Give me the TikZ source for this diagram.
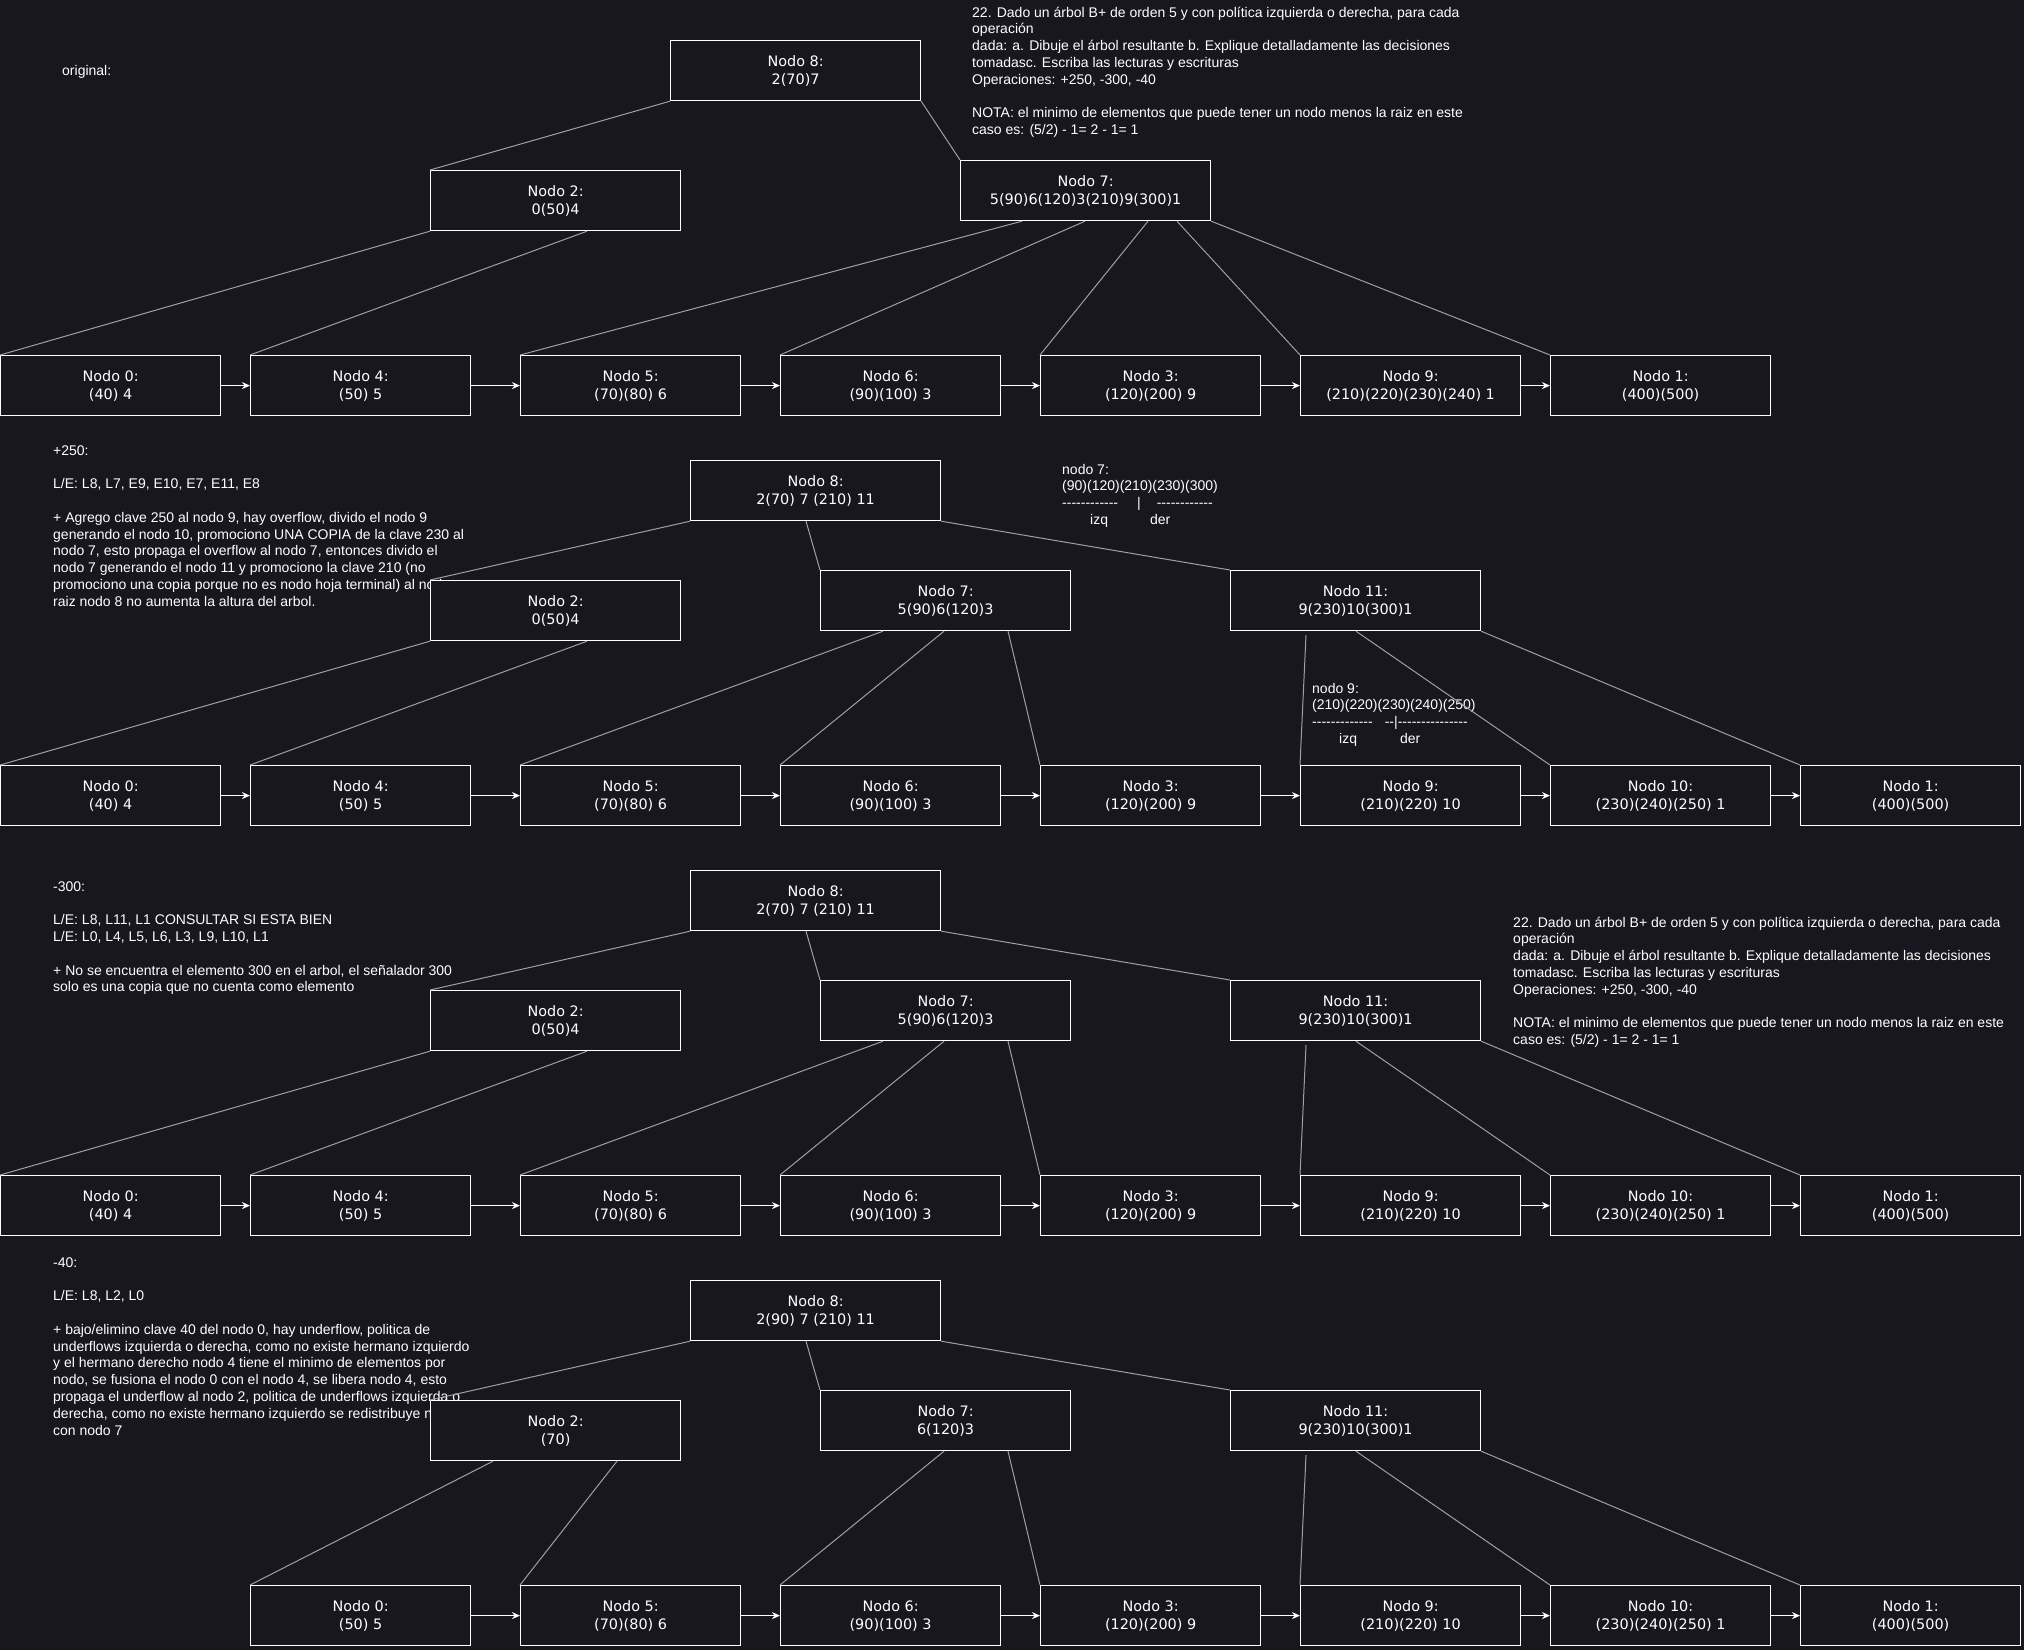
\documentclass[tikz,border=0pt]{standalone}
\usepackage{fontspec}
\newfontfamily\annotfont{Liberation Sans}
\newfontfamily\boxfont{DejaVu Sans}
\usetikzlibrary{arrows.meta}
\definecolor{bgc}{HTML}{18161F}
\definecolor{edgec}{HTML}{A0A0A0}

% a single hyphen that never joins its neighbours into a dash ligature
\newcommand\hh{-\kern0pt}
\newcount\hcnt
\newcommand\hhrun[1]{\hcnt=0 \loop\hh\advance\hcnt by 1 \ifnum\hcnt<#1 \repeat}

% a left-aligned block of text lines, 16.8pt apart; #3 is the centre of the first line
\newcommand\textblock[4]{%
  \foreach \ln [count=\k from 0] in {#4}{%
    \node[annot] (#1\k) at (#2, #3+5+16.8*\k) {\ln};
  }%
}

\tikzset{
  x=1pt, y=-1pt,
  inode/.style={draw=white, line width=1.2pt, fill=bgc, minimum width=250pt,
    minimum height=60pt, anchor=north west, inner sep=0pt, align=center,
    text=white, font=\boxfont\fontsize{14.4}{18}\selectfont},
  leaf/.style={inode, minimum width=220pt},
  edge/.style={draw=edgec, line width=1pt},
  link/.style={draw=white, line width=1.2pt, -{Stealth[length=8pt,width=7pt]}},
  annot/.style={text=white, inner sep=0pt, anchor=base west,
    font=\annotfont\fontsize{14}{17}\selectfont},
}

% tree after a split: Nodo 8 root, Nodo 7 and Nodo 11 as its right children
\newcommand\splitrow[2]{%
  \node[inode] (#1n8)  at (690, 460+#2) {Nodo 8:\\2(70) 7 (210) 11};
  \node[inode] (#1n2)  at (430, 580+#2) {Nodo 2:\\0(50)4};
  \node[inode] (#1n7)  at (820, 570+#2) {Nodo 7:\\5(90)6(120)3};
  \node[inode] (#1n11) at (1230, 570+#2) {Nodo 11:\\9(230)10(300)1};
  \node[leaf] (#1n0)  at (0, 765+#2)    {Nodo 0:\\(40) 4};
  \node[leaf] (#1n4)  at (250, 765+#2)  {Nodo 4:\\(50) 5};
  \node[leaf] (#1n5)  at (520, 765+#2)  {Nodo 5:\\(70)(80) 6};
  \node[leaf] (#1n6)  at (780, 765+#2)  {Nodo 6:\\(90)(100) 3};
  \node[leaf] (#1n3)  at (1040, 765+#2) {Nodo 3:\\(120)(200) 9};
  \node[leaf] (#1n9)  at (1300, 765+#2) {Nodo 9:\\(210)(220) 10};
  \node[leaf] (#1n10) at (1550, 765+#2) {Nodo 10:\\(230)(240)(250) 1};
  \node[leaf] (#1n1)  at (1800, 765+#2) {Nodo 1:\\(400)(500)};
  \draw[edge] (#1n8.south west) -- (#1n2.north west);
  \draw[edge] ([xshift=116pt]#1n8.south west) -- (#1n7.north west);
  \draw[edge] (#1n8.south east) -- (#1n11.north west);
  \draw[edge] (#1n2.south west) -- (#1n0.north west);
  \draw[edge] ([xshift=157pt]#1n2.south west) -- (#1n4.north west);
  \draw[edge] ([xshift=63pt]#1n7.south west) -- (#1n5.north west);
  \draw[edge] ([xshift=124pt]#1n7.south west) -- (#1n6.north west);
  \draw[edge] ([xshift=188pt]#1n7.south west) -- (#1n3.north west);
  \draw[edge] ([xshift=76pt,yshift=-4pt]#1n11.south west) -- (#1n9.north west);
  \draw[edge] ([xshift=126pt]#1n11.south west) -- (#1n10.north west);
  \draw[edge] (#1n11.south east) -- (#1n1.north west);
  \foreach \p/\q in {0/4,4/5,5/6,6/3,3/9,9/10,10/1}{\draw[link] (#1n\p.east) -- (#1n\q.west);}
}

\begin{document}
\begin{tikzpicture}
\fill[bgc] (0,0) rectangle (2024,1650);
\useasboundingbox (0,0) rectangle (2024,1650);

% ---------- notes ----------
\textblock{ta}{62}{70}{{original:}}
\textblock{tq}{972}{12}{{22. Dado un árbol B+ de orden 5 y con política izquierda o derecha, para cada},{operación},{dada: a. Dibuje el árbol resultante b. Explique detalladamente las decisiones},{tomadasc. Escriba las lecturas y escrituras},{Operaciones: +250, \hh300, \hh40},{},{NOTA: el minimo de elementos que puede tener un nodo menos la raiz en este},{caso es: (5/2) \hh\ 1= 2 \hh\ 1= 1}}

\textblock{tb}{53}{450}{{+250:},{},{L/E: L8, L7, E9, E10, E7, E11, E8},{},{+ Agrego clave 250 al nodo 9, hay overflow, divido el nodo 9},{generando el nodo 10, promociono UNA COPIA de la clave 230 al},{nodo 7, esto propaga el overflow al nodo 7, entonces divido el},{nodo 7 generando el nodo 11 y promociono la clave 210 (no},{promociono una copia porque no es nodo hoja terminal) al nodo},{raiz nodo 8 no aumenta la altura del arbol.}}
\textblock{tsa}{1062}{469}{{nodo 7:},{(90)(120)(210)(230)(300)},{\hhrun{12}\hspace{19pt}|\hspace{16pt}\hhrun{12}},{\hspace{28pt}izq\hspace{42pt}der}}
\textblock{tsb}{1312}{688}{{nodo 9:},{(210)(220)(230)(240)(250)},{\hhrun{13}\hspace{12pt}\hhrun{2}|\hhrun{15}},{\hspace{27pt}izq\hspace{43pt}der}}

\textblock{tc}{53}{886}{{\hh300:},{},{L/E: L8, L11, L1 CONSULTAR SI ESTA BIEN},{L/E: L0, L4, L5, L6, L3, L9, L10, L1},{},{+ No se encuentra el elemento 300 en el arbol, el señalador 300},{solo es una copia que no cuenta como elemento}}
\textblock{tr}{1513}{922}{{22. Dado un árbol B+ de orden 5 y con política izquierda o derecha, para cada},{operación},{dada: a. Dibuje el árbol resultante b. Explique detalladamente las decisiones},{tomadasc. Escriba las lecturas y escrituras},{Operaciones: +250, \hh300, \hh40},{},{NOTA: el minimo de elementos que puede tener un nodo menos la raiz en este},{caso es: (5/2) \hh\ 1= 2 \hh\ 1= 1}}

\textblock{td}{53}{1262}{{\hh40:},{},{L/E: L8, L2, L0},{},{+ bajo/elimino clave 40 del nodo 0, hay underflow, politica de},{underflows izquierda o derecha, como no existe hermano izquierdo},{y el hermano derecho nodo 4 tiene el minimo de elementos por},{nodo, se fusiona el nodo 0 con el nodo 4, se libera nodo 4, esto},{propaga el underflow al nodo 2, politica de underflows izquierda o},{derecha, como no existe hermano izquierdo se redistribuye nodo 2},{con nodo 7}}

% ---------- original tree ----------
\node[inode] (an8) at (670, 40)  {Nodo 8:\\2(70)7};
\node[inode] (an2) at (430, 170) {Nodo 2:\\0(50)4};
\node[inode] (an7) at (960, 160) {Nodo 7:\\5(90)6(120)3(210)9(300)1};
\node[leaf] (an0) at (0, 355)    {Nodo 0:\\(40) 4};
\node[leaf] (an4) at (250, 355)  {Nodo 4:\\(50) 5};
\node[leaf] (an5) at (520, 355)  {Nodo 5:\\(70)(80) 6};
\node[leaf] (an6) at (780, 355)  {Nodo 6:\\(90)(100) 3};
\node[leaf] (an3) at (1040, 355) {Nodo 3:\\(120)(200) 9};
\node[leaf] (an9) at (1300, 355) {Nodo 9:\\(210)(220)(230)(240) 1};
\node[leaf] (an1) at (1550, 355) {Nodo 1:\\(400)(500)};
\draw[edge] (an8.south west) -- (an2.north west);
\draw[edge] (an8.south east) -- (an7.north west);
\draw[edge] (an2.south west) -- (an0.north west);
\draw[edge] ([xshift=157pt]an2.south west) -- (an4.north west);
\draw[edge] ([xshift=62pt]an7.south west) -- (an5.north west);
\draw[edge] ([xshift=125pt]an7.south west) -- (an6.north west);
\draw[edge] ([xshift=188pt]an7.south west) -- (an3.north west);
\draw[edge] ([xshift=217pt]an7.south west) -- (an9.north west);
\draw[edge] (an7.south east) -- (an1.north west);
\foreach \p/\q in {0/4,4/5,5/6,6/3,3/9,9/1}{\draw[link] (an\p.east) -- (an\q.west);}

% ---------- after +250 and after -300 ----------
\splitrow{b}{0}
\splitrow{c}{410}

% ---------- after -40 ----------
\node[inode] (dn8)  at (690, 1280)  {Nodo 8:\\2(90) 7 (210) 11};
\node[inode] (dn2)  at (430, 1400)  {Nodo 2:\\(70)};
\node[inode] (dn7)  at (820, 1390)  {Nodo 7:\\6(120)3};
\node[inode] (dn11) at (1230, 1390) {Nodo 11:\\9(230)10(300)1};
\node[leaf] (dn0)  at (250, 1585)  {Nodo 0:\\(50) 5};
\node[leaf] (dn5)  at (520, 1585)  {Nodo 5:\\(70)(80) 6};
\node[leaf] (dn6)  at (780, 1585)  {Nodo 6:\\(90)(100) 3};
\node[leaf] (dn3)  at (1040, 1585) {Nodo 3:\\(120)(200) 9};
\node[leaf] (dn9)  at (1300, 1585) {Nodo 9:\\(210)(220) 10};
\node[leaf] (dn10) at (1550, 1585) {Nodo 10:\\(230)(240)(250) 1};
\node[leaf] (dn1)  at (1800, 1585) {Nodo 1:\\(400)(500)};
\draw[edge] (dn8.south west) -- (dn2.north west);
\draw[edge] ([xshift=116pt]dn8.south west) -- (dn7.north west);
\draw[edge] (dn8.south east) -- (dn11.north west);
\draw[edge] ([xshift=63pt]dn2.south west) -- (dn0.north west);
\draw[edge] ([xshift=187pt]dn2.south west) -- (dn5.north west);
\draw[edge] ([xshift=124pt]dn7.south west) -- (dn6.north west);
\draw[edge] ([xshift=188pt]dn7.south west) -- (dn3.north west);
\draw[edge] ([xshift=76pt,yshift=-4pt]dn11.south west) -- (dn9.north west);
\draw[edge] ([xshift=126pt]dn11.south west) -- (dn10.north west);
\draw[edge] (dn11.south east) -- (dn1.north west);
\foreach \p/\q in {0/5,5/6,6/3,3/9,9/10,10/1}{\draw[link] (dn\p.east) -- (dn\q.west);}
\end{tikzpicture}
\end{document}
